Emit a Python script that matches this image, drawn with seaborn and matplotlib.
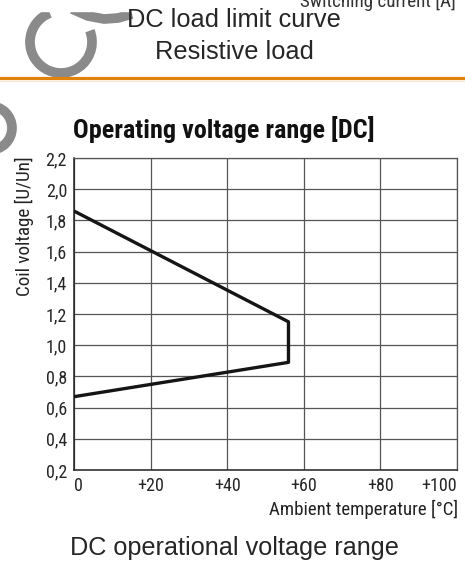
import matplotlib
matplotlib.use("Agg")
import matplotlib.pyplot as plt
import seaborn as sns
import pandas as pd
from matplotlib import font_manager
from matplotlib.patches import Arc, Rectangle
from matplotlib.lines import Line2D

# operating window of the coil
temperature = [0, 56, 56, 0]
coil_voltage = [1.86, 1.15, 0.89, 0.67]

x_ticks = [0, 20, 40, 60, 80, 100]
x_tick_labels = ["0", "+20", "+40", "+60", "+80", "+100"]
y_ticks = [0.2, 0.4, 0.6, 0.8, 1.0, 1.2, 1.4, 1.6, 1.8, 2.0, 2.2]
y_tick_labels = ["0,2", "0,4", "0,6", "0,8", "1,0", "1,2", "1,4", "1,6", "1,8", "2,0", "2,2"]

W, H = 465, 562


def pick_font(candidates, default):
    names = {f.name for f in font_manager.fontManager.ttflist}
    for n in candidates:
        if n in names:
            return n
    return default


NARROW = pick_font(["Roboto Condensed", "Liberation Sans Narrow", "Open Sans Condensed"], "Liberation Sans")
PLAIN = "Liberation Sans"

sns.set_style("white")
plt.rcParams["font.family"] = [PLAIN, "DejaVu Sans"]

fig = plt.figure(figsize=(W / 100, H / 100), dpi=100)
fig.patch.set_facecolor("white")


def fx(px):
    return px / W


def fy(py):
    return 1 - py / H


# --- page decoration above the chart ---
gray = "#8a8a8a"
fig.add_artist(Arc((fx(61), fy(42)), fx(62), 62 / H, theta1=115, theta2=378,
                   transform=fig.transFigure, color=gray, lw=7))
fig.add_artist(Line2D([fx(72), fx(88), fx(104), fx(118), fx(132)],
                      [fy(9), fy(16), fy(19), fy(18), fy(14)],
                      transform=fig.transFigure, color=gray, lw=7,
                      solid_capstyle="butt"))
fig.add_artist(Arc((fx(-10), fy(128)), fx(44), 44 / H, theta1=-90, theta2=90,
                   transform=fig.transFigure, color=gray, lw=7))
fig.add_artist(Rectangle((0, fy(11)), fx(170), 11 / H, transform=fig.transFigure,
                         color="white", zorder=3))
fig.add_artist(Line2D([0, 1], [fy(77.5), fy(77.5)], transform=fig.transFigure,
                      color="#e0820c", lw=2.3))
fig.add_artist(Line2D([0, 1], [fy(80.5), fy(80.5)], transform=fig.transFigure,
                      color="#f8e6d0", lw=0.8))

fig.text(fx(378), fy(1), "Switching current [A]", family=NARROW, fontsize=13.7,
         color="#333333", ha="center", va="center", zorder=4)
fig.text(fx(234), fy(20), "DC load limit curve", fontsize=18.3, ha="center",
         va="center", zorder=4)
fig.text(fx(234), fy(52), "Resistive load", fontsize=18.3, ha="center",
         va="center", zorder=4)

# --- the chart ---
ax = fig.add_axes([fx(74), fy(470), fx(457) - fx(74), (470 - 158) / H])
df = pd.DataFrame({"temp": temperature, "volt": coil_voltage})
sns.lineplot(data=df, x="temp", y="volt", sort=False, estimator=None,
             color="#151515", lw=2.4, ax=ax, zorder=3)

ax.set_xlim(0, 100)
ax.set_ylim(0.2, 2.2)
ax.set_xticks(x_ticks)
ax.set_xticklabels(x_tick_labels, family=NARROW, fontsize=13)
ax.set_yticks(y_ticks)
ax.set_yticklabels(y_tick_labels, family=NARROW, fontsize=13)
xl = ax.get_xticklabels()
xl[0].set_ha("left")
xl[-1].set_ha("right")
ax.tick_params(length=0, pad=5)
ax.grid(True, color="#555555", lw=0.9)
for side in ["top", "right"]:
    ax.spines[side].set_color("#555555")
    ax.spines[side].set_linewidth(0.9)
for side in ["left", "bottom"]:
    ax.spines[side].set_color("#222222")
    ax.spines[side].set_linewidth(1.1)
ax.set_xlabel("")
ax.set_ylabel("")

fig.text(fx(73), fy(130), "Operating voltage range [DC]", family=NARROW,
         fontweight="bold", fontsize=18.8, ha="left", va="center", color="#111111")
fig.text(fx(24), fy(156), "Coil voltage [U/Un]", family=NARROW, fontsize=13.7,
         rotation=90, ha="center", va="top", color="#222222")
fig.text(fx(458), fy(509), "Ambient temperature [°C]", family=NARROW, fontsize=13.6,
         ha="right", va="center", color="#222222")
fig.text(fx(234), fy(548), "DC operational voltage range", fontsize=18.2,
         ha="center", va="center")

fig.savefig("out.png", dpi=100, facecolor="white")
